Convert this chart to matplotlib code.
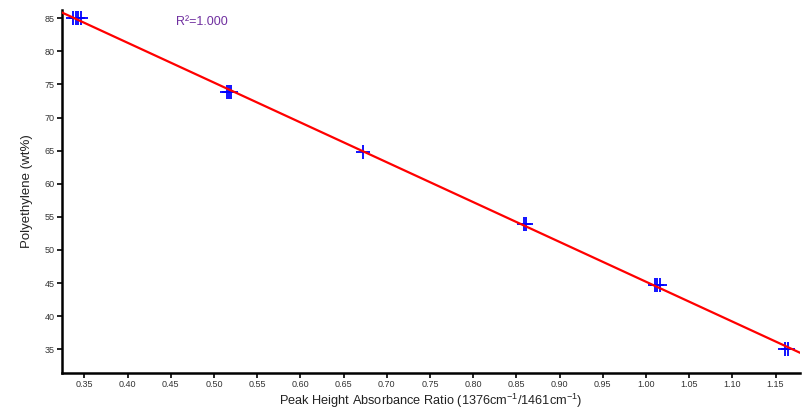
import numpy as np
import matplotlib
matplotlib.use("Agg")
import matplotlib.pyplot as plt
from matplotlib.ticker import FormatStrFormatter

plt.rcParams['font.family'] = ['Liberation Sans', 'DejaVu Sans']
plt.rcParams['mathtext.fontset'] = 'custom'
plt.rcParams['mathtext.rm'] = 'Liberation Sans'
plt.rcParams['mathtext.it'] = 'Liberation Sans'

# Replicate measurements: absorbance ratio vs polyethylene content
ratio = [0.337, 0.340, 0.343, 0.346,
         0.5145, 0.517, 0.520,
         0.6725,
         0.859, 0.861,
         1.010, 1.013, 1.0165,
         1.161, 1.1648]
pe_wt = [85.0, 85.0, 85.0, 85.0,
         73.8, 73.8, 73.8,
         64.8,
         53.9, 53.9,
         44.7, 44.7, 44.7,
         35.0, 35.0]
r2_label = "R\u00b2=1.000"

x_ticks = np.round(np.arange(0.35, 1.151, 0.05), 2)
y_ticks = [35, 40, 45, 50, 55, 60, 65, 70, 75, 80, 85]

fig = plt.figure(figsize=(8.07, 4.11), dpi=100)
ax = fig.add_axes([0.0768, 0.0932, 0.9142, 0.8825])

xlim = (0.324, 1.178)
ylim = (31.45, 86.25)

coef = np.polyfit(ratio, pe_wt, 1)
xf = np.array(xlim)
ax.plot(xf, np.polyval(coef, xf), color='#ff0000', lw=1.6, zorder=3)
ax.plot(ratio, pe_wt, linestyle='none', marker='+', ms=10, mew=1.3,
        color='#0000ff', zorder=2)

ax.set_xlim(*xlim)
ax.set_ylim(*ylim)
ax.set_xticks(x_ticks)
ax.set_yticks(y_ticks)
ax.xaxis.set_major_formatter(FormatStrFormatter('%.2f'))

for s in ['top', 'right']:
    ax.spines[s].set_visible(False)
for s in ['left', 'bottom']:
    ax.spines[s].set_linewidth(1.8)
    ax.spines[s].set_color('black')

ax.tick_params(axis='both', direction='out', length=3.5, width=1.2,
               labelsize=6.5, colors='black', labelcolor='#333333', pad=2)

ax.set_xlabel(r'Peak Height Absorbance Ratio (1376cm$^{\mathdefault{-1}}$/1461cm$^{\mathdefault{-1}}$)',
              fontsize=9.2, color='#222222', labelpad=1.5)
ax.set_ylabel('Polyethylene (wt%)', fontsize=9.5, color='#222222', labelpad=8)

ax.text(0.456, 84.4, r2_label, fontsize=9, color='#7030a0', va='center', ha='left')

fig.savefig('out.png', dpi=100)
